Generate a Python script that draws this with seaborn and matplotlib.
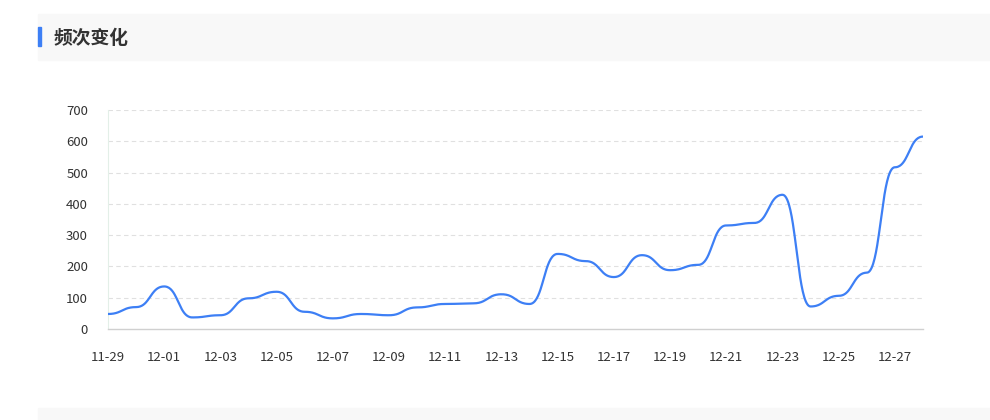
import numpy as np
import pandas as pd
import matplotlib
matplotlib.use("Agg")
import matplotlib.pyplot as plt
import seaborn as sns
from matplotlib.patches import Rectangle

dates = ["11-29", "11-30", "12-01", "12-02", "12-03", "12-04", "12-05", "12-06",
         "12-07", "12-08", "12-09", "12-10", "12-11", "12-12", "12-13", "12-14",
         "12-15", "12-16", "12-17", "12-18", "12-19", "12-20", "12-21", "12-22",
         "12-23", "12-24", "12-25", "12-26", "12-27", "12-28"]
values = [48, 70, 136, 37, 44, 98, 119, 55, 34, 48, 44, 69, 80, 82, 111, 80,
          240, 217, 166, 236, 188, 205, 331, 339, 429, 72, 106, 180, 517, 615]
y_ticks = [0, 100, 200, 300, 400, 500, 600, 700]
title = "频次变化"

sns.set_theme(style="white")
plt.rcParams['font.family'] = ['Noto Sans CJK SC', 'DejaVu Sans']

W, H = 990, 420
fig = plt.figure(figsize=(W / 100, H / 100), dpi=100)
fig.patch.set_facecolor("white")

# header band
fig.patches.append(Rectangle((38 / W, 1 - 60 / H), (W - 38) / W, 46 / H,
                             transform=fig.transFigure, color="#f8f8f8", zorder=0))
fig.patches.append(Rectangle((38 / W, 1 - 46 / H), 3 / W, 19 / H,
                             transform=fig.transFigure, color="#3d7ff5", zorder=1))
fig.text(54 / W, 1 - 38 / H, title, fontsize=13.5, fontweight="bold",
         color="#333333", va="center", ha="left")
# bottom band
fig.patches.append(Rectangle((38 / W, 0), (W - 38) / W, 12 / H,
                             transform=fig.transFigure, color="#f8f8f8", zorder=0))

left, right, top, bottom = 108, 923, 110, 329
ax = fig.add_axes([left / W, 1 - bottom / H, (right - left) / W, (bottom - top) / H])

# echarts-like smoothing (monotone in x: horizontal tangents at each point)
n = len(values)
xs = np.arange(n, dtype=float)
ys = np.array(values, dtype=float)
smooth = 0.5
t = np.linspace(0, 1, 40)
seg_x, seg_y = [], []
for i in range(n - 1):
    x0, y0, x3, y3 = xs[i], ys[i], xs[i + 1], ys[i + 1]
    dx = x3 - x0
    x1, y1 = x0 + dx * smooth, y0
    x2, y2 = x3 - dx * smooth, y3
    bx = (1 - t) ** 3 * x0 + 3 * (1 - t) ** 2 * t * x1 + 3 * (1 - t) * t ** 2 * x2 + t ** 3 * x3
    by = (1 - t) ** 3 * y0 + 3 * (1 - t) ** 2 * t * y1 + 3 * (1 - t) * t ** 2 * y2 + t ** 3 * y3
    if i > 0:
        bx, by = bx[1:], by[1:]
    seg_x.append(bx)
    seg_y.append(by)
df = pd.DataFrame({"x": np.concatenate(seg_x), "y": np.concatenate(seg_y)})

sns.lineplot(data=df, x="x", y="y", ax=ax, color="#3d7ff5", linewidth=1.6,
             sort=False, estimator=None, zorder=3)

ax.set_xlim(0, n - 1)
ax.set_ylim(0, 700)
ax.set_yticks(y_ticks)
ax.set_yticklabels([str(v) for v in y_ticks])
ax.set_xticks(list(range(0, n, 2)))
ax.set_xticklabels(dates[::2])
ax.set_xlabel("")
ax.set_ylabel("")
for yv in y_ticks[1:]:
    ax.axhline(yv, color="#e0e0e0", linewidth=0.8, linestyle=(0, (4, 3)), zorder=1)
for s_ in ["top", "right"]:
    ax.spines[s_].set_visible(False)
ax.spines["left"].set_color("#e3efe8")
ax.spines["left"].set_linewidth(0.8)
ax.spines["bottom"].set_color("#d0d0d0")
ax.spines["bottom"].set_linewidth(1.0)
ax.tick_params(axis="both", length=0, labelsize=9.5, colors="#333333")
ax.tick_params(axis="y", pad=14.4)
ax.tick_params(axis="x", pad=15.5)
ax.set_facecolor("white")

fig.savefig("out.png", dpi=100)
